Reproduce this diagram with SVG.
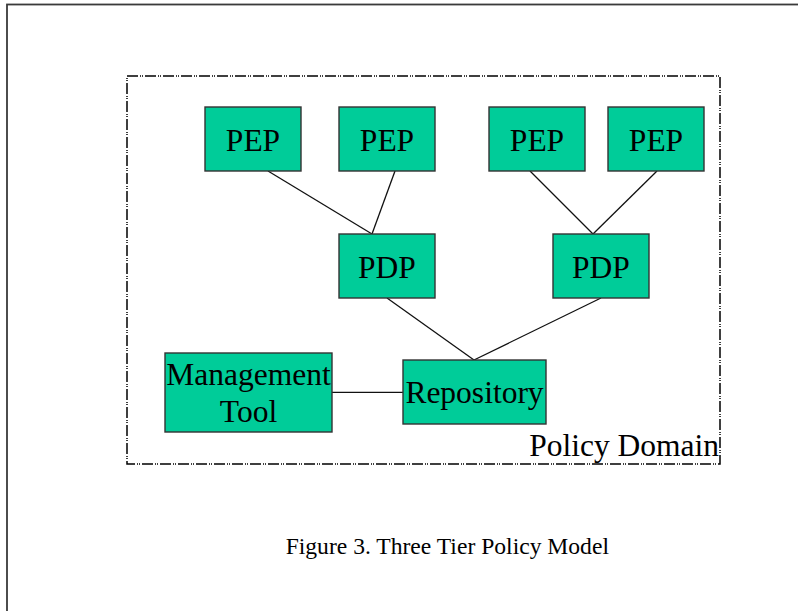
<svg xmlns="http://www.w3.org/2000/svg" width="798" height="611" viewBox="0 0 798 611">
  <style>
    .node rect { fill: #00cc99; stroke: #333333; stroke-width: 1.4; }
    .node text, .label { font-family: "Liberation Serif", "Times New Roman", serif; fill: #000000; }
    .node text { font-size: 31.5px; text-anchor: middle; }
    #connectors line { stroke: #111111; stroke-width: 1.3; }
  </style>
  <rect width="798" height="611" fill="#ffffff"/>
  <!-- page frame, running off the right and bottom edges -->
  <rect x="7" y="4.5" width="820" height="640" fill="none" stroke="#3a3a3a" stroke-width="1.8"/>
  <!-- policy domain boundary -->
  <rect id="policy-domain" x="127" y="76" width="593" height="388" fill="none" stroke="#000000" stroke-width="1.5" stroke-dasharray="11 2 1 1 1 2"/>
  <text class="label" x="719" y="455.5" font-size="31.5" text-anchor="end">Policy Domain</text>

  <g id="connectors">
    <line x1="268" y1="171" x2="372" y2="234"/>
    <line x1="395" y1="171" x2="372" y2="234"/>
    <line x1="530" y1="171" x2="593" y2="234"/>
    <line x1="657" y1="171" x2="593" y2="234"/>
    <line x1="387" y1="298" x2="474" y2="360"/>
    <line x1="601" y1="298" x2="474" y2="360"/>
    <line x1="332" y1="392.3" x2="403" y2="392.3"/>
  </g>

  <g id="pep1" class="node">
    <rect x="205" y="107" width="96" height="64"/>
    <text x="253" y="151">PEP</text>
  </g>
  <g id="pep2" class="node">
    <rect x="339" y="107" width="96" height="64"/>
    <text x="387" y="151">PEP</text>
  </g>
  <g id="pep3" class="node">
    <rect x="489" y="107" width="96" height="64"/>
    <text x="537" y="151">PEP</text>
  </g>
  <g id="pep4" class="node">
    <rect x="608" y="107" width="96" height="64"/>
    <text x="656" y="151">PEP</text>
  </g>
  <g id="pdp1" class="node">
    <rect x="339" y="234" width="96" height="64"/>
    <text x="387" y="278.3">PDP</text>
  </g>
  <g id="pdp2" class="node">
    <rect x="553" y="234" width="96" height="64"/>
    <text x="601" y="278.3">PDP</text>
  </g>
  <g id="management-tool" class="node">
    <rect x="165" y="353" width="167" height="79"/>
    <text x="248.5" y="385">Management</text>
    <text x="248.5" y="422.3">Tool</text>
  </g>
  <g id="repository" class="node">
    <rect x="403" y="360" width="143" height="64"/>
    <text x="474.5" y="403.3">Repository</text>
  </g>

  <text class="label" x="447.3" y="554.3" font-size="23.6" text-anchor="middle">Figure 3. Three Tier Policy Model</text>
</svg>
